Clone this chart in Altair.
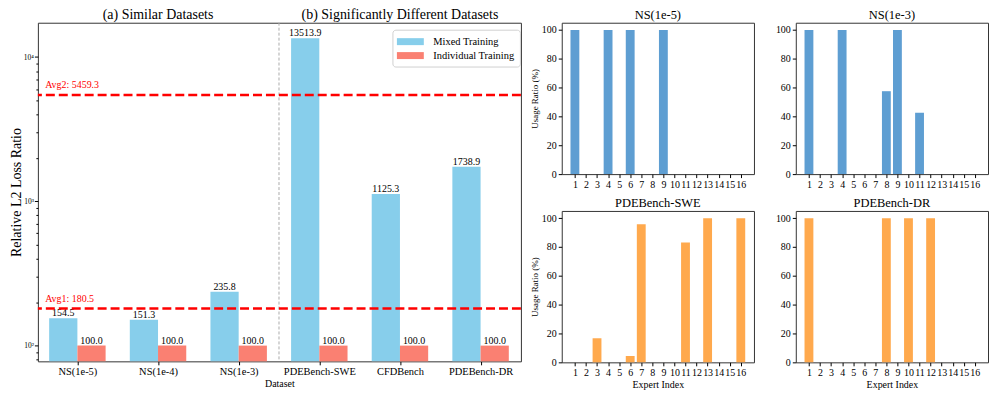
import json
import altair as alt
import pandas as pd

FONT = "Liberation Serif"

# ---------------- data ----------------
datasets = ["NS(1e-5)", "NS(1e-4)", "NS(1e-3)", "PDEBench-SWE", "CFDBench", "PDEBench-DR"]
mixed = [154.5, 151.3, 235.8, 13513.9, 1125.3, 1738.9]
individual = [100.0, 100.0, 100.0, 100.0, 100.0, 100.0]
series_names = ["Mixed Training", "Individual Training"]
series_colors = ["#87CEEB", "#FA8072"]
avg_values = [180.5, 5459.3]
avg_labels = ["Avg1: 180.5", "Avg2: 5459.3"]
section_titles = ["(a) Similar Datasets", "(b) Significantly Different Datasets"]
section_pos = [1, 4]

experts = list(range(1, 17))
usage_ns5 = [100, 0, 0, 100, 0, 100, 0, 0, 100, 0, 0, 0, 0, 0, 0, 0]
usage_ns3 = [100, 0, 0, 100, 0, 0, 0, 57.5, 100, 0, 42.5, 0, 0, 0, 0, 0]
usage_swe = [0, 0, 16.7, 0, 0, 4.4, 95.7, 0, 0, 0, 83.2, 0, 100, 0, 0, 100]
usage_dr = [100, 0, 0, 0, 0, 0, 0, 100, 0, 100, 0, 100, 0, 0, 0, 0]
panel_titles = ["NS(1e-5)", "NS(1e-3)", "PDEBench-SWE", "PDEBench-DR"]
blue_c = "#5E9ED2"
orange_c = "#FFA94D"

# ---------------- left chart ----------------
rows = []
for i, name in enumerate(datasets):
    rows.append({"idx": i, "dataset": name, "series": series_names[0], "value": mixed[i], "off": -1})
    rows.append({"idx": i, "dataset": name, "series": series_names[1], "value": individual[i], "off": 0})
bars_df = pd.DataFrame(rows)

BW = 0.35
LW, LH = 485, 340
PW, PH = 193, 152
xscale = alt.Scale(domain=[-0.49, 5.5], nice=False, zero=False)
yscale = alt.Scale(type="log", domain=[77.8, 17300], nice=False)

x_label_expr = json.dumps(datasets) + "[datum.value]"
xaxis = alt.Axis(values=list(range(len(datasets))), labelExpr=x_label_expr, title="Dataset",
                 labelFontSize=10.5, titleFontSize=10, titlePadding=1, tickSize=3.5, labelPadding=2)
minor = [80, 90] + [k * 100 for k in range(2, 10)] + [k * 1000 for k in range(2, 10)]
yvals = sorted([100, 1000, 10000] + minor)
yaxis = alt.Axis(values=yvals,
                 labelExpr="datum.value == 100 ? '10²' : datum.value == 1000 ? '10³' : datum.value == 10000 ? '10⁴' : ''",
                 labelFontSize=7.5, labelPadding=1, title="Relative L2 Loss Ratio", titleFontSize=14, titlePadding=0,
                 tickSize={"condition": {"test": "datum.value == 100 || datum.value == 1000 || datum.value == 10000", "value": 3.5}, "value": 2})

base = alt.Chart(bars_df).transform_calculate(
    x0=f"datum.idx + datum.off*{BW}",
    x1=f"datum.idx + (datum.off+1)*{BW}",
    xc=f"datum.idx + (datum.off+0.5)*{BW}",
)

symbol_path = "M-1.93,-0.5L1.93,-0.5L1.93,0.5L-1.93,0.5Z"
bars = base.mark_bar().encode(
    x=alt.X("x0:Q", scale=xscale, axis=xaxis),
    x2="x1:Q",
    y=alt.Y("value:Q", scale=yscale, axis=yaxis),
    y2=alt.value(LH),
    color=alt.Color("series:N", scale=alt.Scale(domain=series_names, range=series_colors),
                    legend=alt.Legend(title=None, orient="none", legendX=356, legendY=7,
                                      symbolType=symbol_path, symbolSize=196, symbolStrokeWidth=0,
                                      symbolOffset=6,
                                      labelFont=FONT, labelFontSize=10.5, labelColor="black",
                                      fillColor="white", strokeColor="#d0d0d0", padding=5,
                                      cornerRadius=3, rowPadding=1, labelOffset=16)),
)
bar_text = base.mark_text(baseline="bottom", dy=0, fontSize=10, font=FONT, color="black").encode(
    x=alt.X("xc:Q", scale=xscale, axis=xaxis),
    y=alt.Y("value:Q", scale=yscale, axis=yaxis),
    text=alt.Text("value:Q", format=".1f"),
)

avg_df = pd.DataFrame({"value": avg_values, "label": avg_labels, "lx": [-0.4, -0.4]})
avg_rules = alt.Chart(avg_df).mark_rule(color="red", strokeWidth=2.5, strokeDash=[9, 4]).encode(
    y=alt.Y("value:Q", scale=yscale, axis=yaxis)
)
avg_text = alt.Chart(avg_df).mark_text(color="red", align="left", baseline="bottom", dy=-5,
                                       fontSize=10, font=FONT).encode(
    x=alt.X("lx:Q", scale=xscale, axis=xaxis),
    y=alt.Y("value:Q", scale=yscale, axis=yaxis),
    text="label:N",
)
sep = alt.Chart(pd.DataFrame({"sx": [2.5]})).mark_rule(color="#aaaaaa", strokeDash=[3, 2], strokeWidth=1).encode(
    x=alt.X("sx:Q", scale=xscale, axis=xaxis)
)
sec_df = pd.DataFrame({"pos": section_pos, "t": section_titles})
sec_text = alt.Chart(sec_df).mark_text(fontSize=14, font=FONT, baseline="bottom", color="black").encode(
    x=alt.X("pos:Q", scale=xscale, axis=xaxis),
    y=alt.value(-1),
    text="t:N",
)

left = alt.layer(sep, bars, bar_text, avg_rules, avg_text, sec_text).properties(width=LW, height=LH)


# ---------------- right panels ----------------
def panel(title, values, color, ytitle, xtitle):
    df = pd.DataFrame({"expert": experts, "usage": values})
    xs = alt.Scale(domain=[-0.19, 17.19], nice=False, zero=False)
    ys = alt.Scale(domain=[0, 105], nice=False)
    xax = alt.Axis(values=experts, format="d", labelFontSize=10, tickSize=3.5, labelPadding=2,
                   title="Expert Index" if xtitle else None, titleFontSize=10, titlePadding=2)
    yax = alt.Axis(values=[0, 20, 40, 60, 80, 100], labelFontSize=10, tickSize=3.5, labelPadding=2,
                   title="Usage Ratio (%)" if ytitle else None, titleFontSize=9, titlePadding=2)
    return alt.Chart(df).transform_calculate(
        a="datum.expert - 0.4", b="datum.expert + 0.4"
    ).mark_bar(color=color).encode(
        x=alt.X("a:Q", scale=xs, axis=xax),
        x2="b:Q",
        y=alt.Y("usage:Q", scale=ys, axis=yax),
        y2=alt.datum(0),
    ).properties(width=PW, height=PH,
                 title=alt.TitleParams(title, fontSize=12.5, font=FONT, fontWeight="normal", offset=1, color="black"))


p1 = panel(panel_titles[0], usage_ns5, blue_c, True, False)
p2 = panel(panel_titles[1], usage_ns3, blue_c, False, False)
p3 = panel(panel_titles[2], usage_swe, orange_c, True, True)
p4 = panel(panel_titles[3], usage_dr, orange_c, False, True)

right = alt.vconcat(
    alt.hconcat(p1, p2, spacing=20),
    alt.hconcat(p3, p4, spacing=20),
    spacing=7,
)

chart = alt.hconcat(left, right, spacing=7).properties(
    padding={"left": 0, "top": -2, "right": 0, "bottom": 0}
).configure(
    font=FONT
).configure_view(stroke="#333333", strokeWidth=1).configure_axis(
    domain=False, grid=False, tickColor="black", labelColor="black", titleColor="black",
    labelFont=FONT, titleFont=FONT, titleFontWeight="normal"
)

chart.save("out.html", embed_options={"renderer": "svg", "actions": False})
